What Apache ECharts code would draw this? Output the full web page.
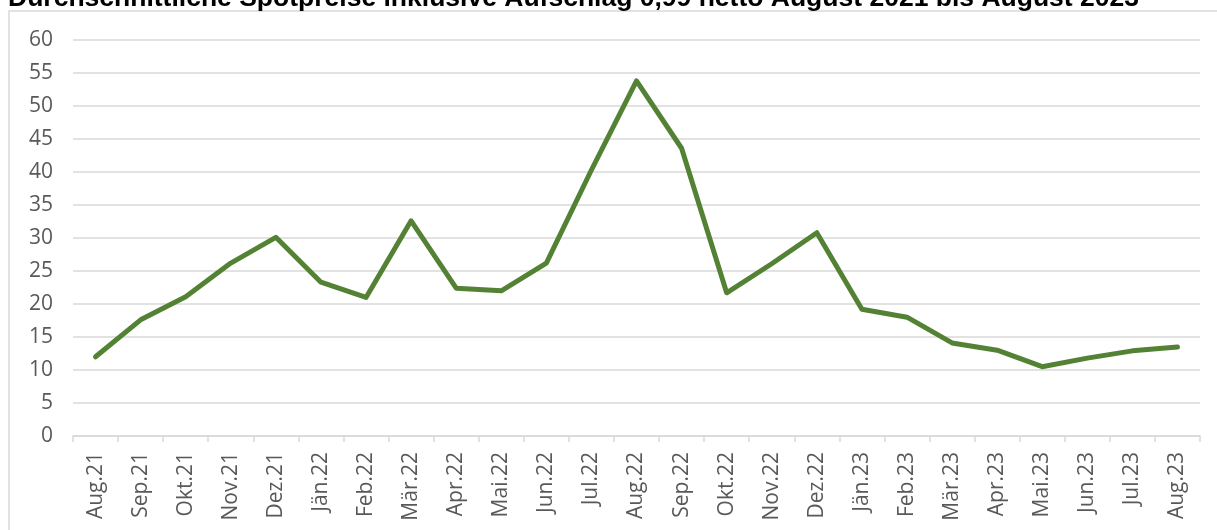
<!DOCTYPE html>
<html>
<head>
<meta charset="utf-8">
<script src="https://cdn.jsdelivr.net/npm/echarts@6/dist/echarts.min.js"></script>
<style>
  html, body { margin: 0; padding: 0; background: #fff; }
  #chart { width: 1217px; height: 530px; }
</style>
</head>
<body>
<div id="chart"></div>
<script>
// Monate (x-Achse)
const months = ['Aug.21', 'Sep.21', 'Okt.21', 'Nov.21', 'Dez.21', 'Jän.22', 'Feb.22', 'Mär.22', 'Apr.22',
  'Mai.22', 'Jun.22', 'Jul.22', 'Aug.22', 'Sep.22', 'Okt.22', 'Nov.22', 'Dez.22', 'Jän.23', 'Feb.23',
  'Mär.23', 'Apr.23', 'Mai.23', 'Jun.23', 'Jul.23', 'Aug.23'];
// Spotpreise inkl. Aufschlag
const prices = [12.0, 17.6, 21.1, 26.2, 30.1, 23.3, 21.0, 32.6, 22.4, 22.0, 26.2, 40.3, 53.8,
  43.6, 21.7, 26.1, 30.8, 19.2, 18.0, 14.1, 13.0, 10.5, 11.8, 12.9, 13.5];
const yMin = 0, yMax = 60, yStep = 5;

let myChart = echarts.init(document.getElementById('chart'));
let option = {
  animation: false,
  title: {
    text: 'Durchschnittliche Spotpreise inklusive Aufschlag 0,99 netto August 2021 bis August 2023',
    left: 8,
    top: -15,
    padding: 0,
    textStyle: { fontFamily: 'Liberation Sans', fontWeight: 'bold', fontSize: 26.5, color: '#000' }
  },
  graphic: [{
    type: 'rect',
    shape: { x: 9, y: 11, width: 1240, height: 560 },
    style: { fill: 'none', stroke: '#d9d9d9', lineWidth: 1.5 },
    silent: true
  }],
  grid: { left: 73, right: 17, top: 40, bottom: 94 },
  xAxis: {
    type: 'category',
    data: months,
    boundaryGap: true,
    axisLine: { lineStyle: { color: '#d9d9d9', width: 1.5 } },
    axisTick: { show: true, interval: 0, length: 6, lineStyle: { color: '#d9d9d9', width: 1.5 } },
    axisLabel: {
      interval: 0, rotate: 90, margin: 16,
      color: '#595959', fontSize: 21, fontFamily: 'Open Sans'
    }
  },
  yAxis: {
    type: 'value',
    min: yMin, max: yMax, interval: yStep,
    axisLine: { show: false },
    axisTick: { show: false },
    splitLine: { lineStyle: { color: '#d9d9d9', width: 1.5 } },
    axisLabel: { margin: 20, color: '#595959', fontSize: 21, fontFamily: 'Open Sans' }
  },
  series: [{
    type: 'line',
    data: prices,
    symbol: 'none',
    lineStyle: { color: '#548235', width: 5, cap: 'round', join: 'round' }
  }]
};
option && myChart.setOption(option);
</script>
</body>
</html>
